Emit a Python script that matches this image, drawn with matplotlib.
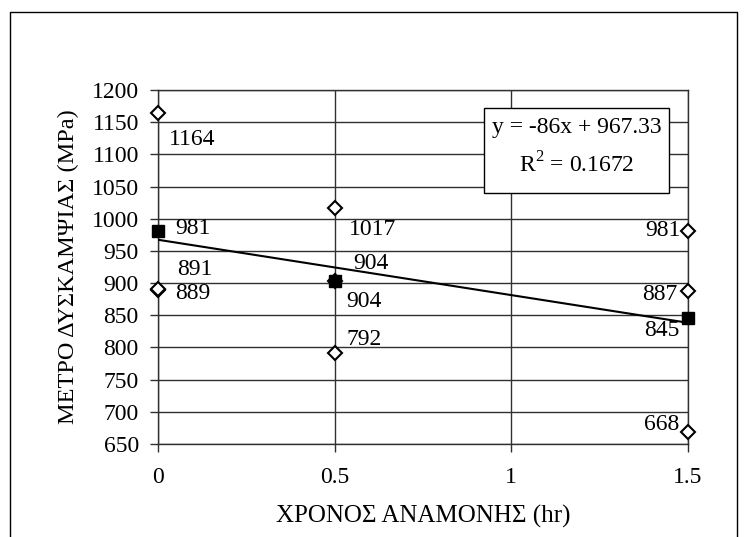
import matplotlib
matplotlib.use("Agg")
import matplotlib.pyplot as plt
from matplotlib.lines import Line2D
from matplotlib.patches import Rectangle

plt.rcParams['font.family'] = ['Liberation Serif', 'DejaVu Serif']
plt.rcParams['mathtext.fontset'] = 'custom'
plt.rcParams['mathtext.rm'] = 'Liberation Serif'

# measurements per waiting time (hr)
x_pts = [0, 0, 0, 0.5, 0.5, 0.5, 1.5, 1.5, 1.5]
y_pts = [1164, 889, 891, 1017, 904, 792, 981, 887, 668]
# group means
x_mean = [0, 0.5, 1.5]
y_mean = [981, 904, 845]
# trendline
slope = -86
intercept = 967.33
r2 = 0.1672

# label placement (offset in pixels) for points then means
pt_offsets = [(34, -26), (35, -3), (37, 19), (38, -22), (29, -21), (29, 13),
              (-25, 0), (-28, -3), (-26, 8)]
mean_offsets = [(35, 2), (36, 17), (-26, -12)]

W, H = 747, 537
fs = 17
fig = plt.figure(figsize=(W / 100, H / 100), dpi=100)
ax = fig.add_axes([158 / W, (H - 444) / H, 530 / W, 354 / H])

gc = '#303030'
ax.set_xlim(0, 1.5)
ax.set_ylim(650, 1200)
ax.set_xticks([0, 0.5, 1, 1.5])
ax.set_xticklabels(['0', '0.5', '1', '1.5'])
ax.set_yticks(range(650, 1201, 50))
ax.grid(True, color=gc, lw=1)
for s in ax.spines.values():
    s.set_color(gc)
    s.set_linewidth(1)
ax.tick_params(axis='both', direction='out', length=5.8, width=1, color=gc,
               labelsize=fs)
ax.tick_params(axis='y', pad=8)
ax.tick_params(axis='x', pad=11)

ax.set_xlabel('ΧΡΟΝΟΣ ΑΝΑΜΟΝΗΣ (hr)', fontsize=18, labelpad=12)
ax.set_ylabel('ΜΕΤΡΟ ΔΥΣΚΑΜΨΙΑΣ (MPa)', fontsize=17.5, labelpad=9)

xs = [0, 1.5]
ax.plot(xs, [slope * v + intercept for v in xs], color='black', lw=1.5, zorder=3)

ax.plot(x_pts, y_pts, 'D', ms=7.5, mfc='white', mec='black', mew=1.5,
        clip_on=False, zorder=4)
ax.plot(x_mean, y_mean, 's', ms=8, color='black', clip_on=False, zorder=5)

for xv, yv, off in zip(x_pts, y_pts, pt_offsets):
    ax.annotate(str(yv), (xv, yv), xytext=off, textcoords='offset pixels',
                ha='center', va='center', fontsize=fs, zorder=6)
for xv, yv, off in zip(x_mean, y_mean, mean_offsets):
    ax.annotate(str(yv), (xv, yv), xytext=off, textcoords='offset pixels',
                ha='center', va='center', fontsize=fs, zorder=6)

# equation box
fig.add_artist(Rectangle((484 / W, 1 - 193 / H), 185 / W, 85 / H,
                         transform=fig.transFigure, fc='white', ec='black',
                         lw=1, zorder=2))
fig.text(577 / W, 1 - 127 / H, f'y = {slope}x + {intercept}', ha='center',
         va='center', fontsize=fs, zorder=3)
fig.text(577 / W, 1 - 165 / H, f'R$^2$ = {r2}', ha='center', va='center',
         fontsize=fs, zorder=3)

# outer chart border (bottom edge cut off)
bx = [10 / W, 10 / W, 737 / W, 737 / W]
by = [0, 1 - 12 / H, 1 - 12 / H, 0]
fig.add_artist(Line2D(bx, by, transform=fig.transFigure, color='black', lw=1))

fig.savefig('out.png', dpi=100)
